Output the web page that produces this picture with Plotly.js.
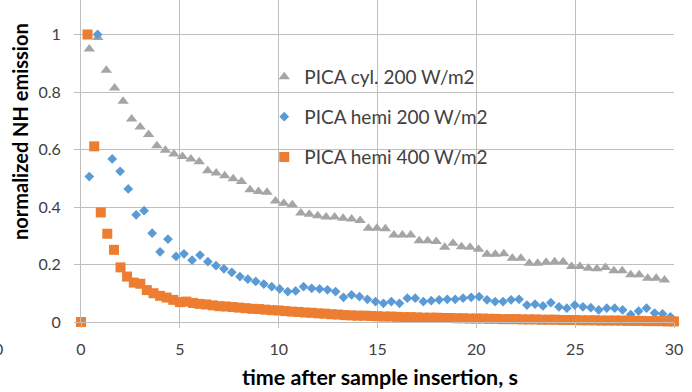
<!DOCTYPE html>
<html>
<head>
<meta charset="utf-8">
<script src="https://cdn.plot.ly/plotly-3.0.1.min.js"></script>
<style>html,body{margin:0;padding:0;background:#fff;}#chart{width:692px;height:392px;}</style>
</head>
<body>
<div id="chart"></div>
<script>
// ---- Data ----
const cylTime = [0.42,0.85,1.28,1.70,2.13,2.56,2.99,3.42,3.84,4.27,4.70,5.13,5.56,5.98,6.41,6.84,7.27,7.70,8.12,8.55,8.98,9.41,9.84,10.26,10.69,11.12,11.55,11.98,12.40,12.83,13.26,13.69,14.12,14.54,14.97,15.40,15.83,16.26,16.68,17.11,17.54,17.97,18.40,18.82,19.25,19.68,20.11,20.54,20.96,21.39,21.82,22.25,22.68,23.10,23.53,23.96,24.39,24.82,25.24,25.67,26.10,26.53,26.96,27.38,27.81,28.24,28.67,29.10,29.52,30.0];
const cyl200 = [0.950,0.990,0.876,0.814,0.768,0.706,0.678,0.652,0.613,0.597,0.584,0.576,0.567,0.557,0.526,0.518,0.509,0.498,0.489,0.460,0.454,0.451,0.421,0.413,0.408,0.379,0.375,0.370,0.365,0.365,0.361,0.358,0.353,0.326,0.326,0.324,0.303,0.303,0.303,0.283,0.283,0.280,0.260,0.274,0.262,0.260,0.253,0.236,0.236,0.237,0.222,0.222,0.204,0.204,0.208,0.210,0.210,0.193,0.193,0.187,0.185,0.190,0.178,0.178,0.164,0.164,0.152,0.152,0.146,0.0];

const hemi200Time = [0.42,0.84,1.58,1.98,2.39,2.79,3.19,3.60,4.00,4.40,4.81,5.21,5.62,6.02,6.42,6.83,7.23,7.63,8.04,8.44,8.84,9.25,9.65,10.05,10.46,10.86,11.26,11.67,12.07,12.47,12.88,13.28,13.69,14.09,14.49,14.90,15.30,15.70,16.11,16.51,16.91,17.32,17.72,18.12,18.53,18.93,19.33,19.74,20.14,20.54,20.95,21.35,21.76,22.16,22.56,22.97,23.37,23.77,24.18,24.58,24.98,25.39,25.79,26.19,26.60,27.00,27.40,27.81,28.21,28.61,29.02,29.42,29.82];
const hemi200 = [0.506,1.000,0.567,0.524,0.463,0.373,0.387,0.309,0.244,0.288,0.228,0.237,0.215,0.233,0.210,0.196,0.185,0.173,0.158,0.149,0.141,0.132,0.123,0.115,0.106,0.108,0.123,0.117,0.115,0.112,0.106,0.086,0.094,0.088,0.079,0.071,0.065,0.071,0.065,0.083,0.083,0.071,0.074,0.077,0.079,0.079,0.083,0.086,0.088,0.077,0.071,0.071,0.077,0.079,0.059,0.062,0.056,0.067,0.053,0.048,0.059,0.053,0.050,0.042,0.048,0.048,0.042,0.026,0.038,0.048,0.031,0.028,0.018];

const hemi400Time = [0,0.33,0.67,1.00,1.33,1.67,2.00,2.33,2.67,3.00,3.33,3.67,4.00,4.33,4.67,5.00,5.33,5.67,6.00,6.33,6.67,7.00,7.33,7.67,8.00,8.33,8.67,9.00,9.33,9.67,10.00,10.33,10.67,11.00,11.33,11.67,12.00,12.33,12.67,13.00,13.33,13.67,14.00,14.33,14.67,15.00,15.33,15.67,16.00,16.33,16.67,17.00,17.33,17.67,18.00,18.33,18.67,19.00,19.33,19.67,20.00,20.33,20.67,21.00,21.33,21.67,22.00,22.33,22.67,23.00,23.33,23.67,24.00,24.33,24.67,25.00,25.33,25.67,26.00,26.33,26.67,27.00,27.33,27.67,28.00,28.33,28.67,29.00,29.33,29.67,30.00];
const hemi400 = [0,1.000,0.611,0.381,0.307,0.251,0.190,0.158,0.137,0.133,0.111,0.100,0.091,0.085,0.077,0.069,0.071,0.066,0.063,0.061,0.058,0.055,0.054,0.052,0.050,0.048,0.046,0.045,0.043,0.041,0.040,0.038,0.036,0.035,0.033,0.032,0.030,0.029,0.027,0.026,0.024,0.023,0.022,0.022,0.021,0.020,0.019,0.019,0.018,0.017,0.017,0.016,0.015,0.015,0.015,0.014,0.014,0.013,0.013,0.012,0.012,0.012,0.011,0.011,0.010,0.010,0.010,0.009,0.009,0.009,0.008,0.008,0.008,0.007,0.007,0.007,0.006,0.006,0.006,0.005,0.005,0.005,0.005,0.004,0.004,0.004,0.003,0.003,0.003,0.002,0.002];

const seriesNames = ['PICA cyl. 200 W/m2', 'PICA hemi 200 W/m2', 'PICA hemi 400 W/m2'];
const xTickVals = [0, 5, 10, 15, 20, 25, 30];
const yTickVals = [0, 0.2, 0.4, 0.6, 0.8, 1];
const yTickText = ['0', '0.2', '0.4', '0.6', '0.8', '1'];
const xTitle = 'time after sample insertion, s';
const yTitle = 'normalized NH emission';

const FONT = 'Lato, "Open Sans", sans-serif';
const GRID = '#bfbfbf';

const traces = [
  {x: cylTime, y: cyl200, name: seriesNames[0], type: 'scatter', mode: 'markers', cliponaxis: false, legend: 'legend',
   marker: {symbol: 'triangle-up', size: 10, color: '#a5a5a5'}},
  {x: hemi200Time, y: hemi200, name: seriesNames[1], type: 'scatter', mode: 'markers', cliponaxis: false, legend: 'legend2',
   marker: {symbol: 'diamond', size: 7.5, color: '#5b9bd5'}},
  {x: hemi400Time, y: hemi400, name: seriesNames[2], type: 'scatter', mode: 'markers', cliponaxis: false, legend: 'legend3',
   marker: {symbol: 'square', size: 10, color: '#ed7d31'}}
];

const legendBase = {xref: 'paper', yref: 'paper', xanchor: 'left', yanchor: 'middle', bgcolor: 'rgba(0,0,0,0)',
  font: {family: FONT, size: 19, color: '#404040'}};

const layout = {
  width: 692, height: 392,
  margin: {l: 81, r: 18, t: 0, b: 70, pad: 0},
  paper_bgcolor: '#ffffff', plot_bgcolor: '#ffffff',
  font: {family: FONT, color: '#404040'},
  showlegend: true,
  legend: Object.assign({}, legendBase, {x: 0.309, y: 0.761}),
  legend2: Object.assign({}, legendBase, {x: 0.309, y: 0.637}),
  legend3: Object.assign({}, legendBase, {x: 0.309, y: 0.512}),
  xaxis: {
    range: [0, 30], tickmode: 'array', tickvals: xTickVals,
    showgrid: true, gridcolor: GRID, gridwidth: 1,
    zeroline: false, showline: true, linecolor: GRID, linewidth: 1,
    ticks: 'outside', ticklen: 5, tickcolor: GRID,
    ticklabelstandoff: 8,
    tickfont: {family: FONT, size: 16, color: '#404040'}
  },
  yaxis: {
    range: [0, 1.12], tickmode: 'array', tickvals: yTickVals, ticktext: yTickText,
    showgrid: true, gridcolor: GRID, gridwidth: 1,
    zeroline: false, showline: true, linecolor: GRID, linewidth: 1,
    ticks: 'outside', ticklen: 6, tickcolor: GRID,
    ticklabelstandoff: 10,
    tickfont: {family: FONT, size: 16, color: '#404040'}
  },
  annotations: [
    {text: '<b>' + xTitle + '</b>', xref: 'paper', yref: 'paper', x: 0.505, y: -0.171,
     xanchor: 'center', yanchor: 'middle', showarrow: false,
     font: {family: FONT, size: 21.5, color: '#000000'}},
    {text: '<b>' + yTitle + '</b>', xref: 'paper', yref: 'paper', x: -0.103, y: 0.593,
     xanchor: 'center', yanchor: 'middle', textangle: -90, showarrow: false,
     font: {family: FONT, size: 20, color: '#000000'}},
    {text: '0', xref: 'paper', yref: 'paper', x: -0.128, y: -0.081,
     xanchor: 'right', yanchor: 'middle', showarrow: false,
     font: {family: FONT, size: 16, color: '#404040'}}
  ]
};

Plotly.newPlot('chart', traces, layout, {staticPlot: true, displayModeBar: false});
</script>
</body>
</html>
